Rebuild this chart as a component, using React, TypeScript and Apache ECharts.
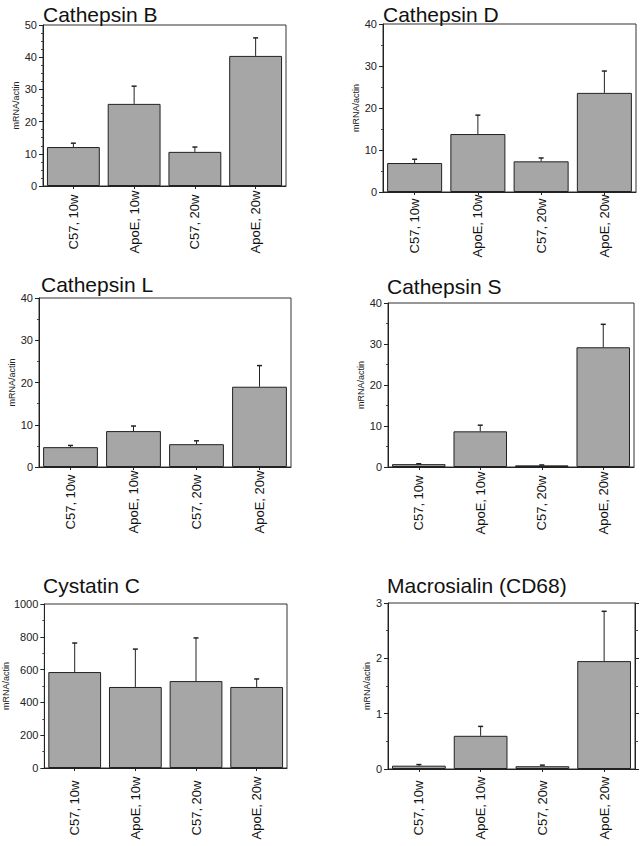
import React, { useEffect, useRef } from 'react';
import * as echarts from 'echarts';

const categories = ['C57, 10w', 'ApoE, 10w', 'C57, 20w', 'ApoE, 20w'];

const titles = ['Cathepsin B', 'Cathepsin D', 'Cathepsin L', 'Cathepsin S', 'Cystatin C', 'Macrosialin (CD68)'];

const cathepsinB = [12.1, 25.5, 10.6, 40.4];
const cathepsinBErr = [1.2, 5.5, 1.5, 5.6];
const cathepsinD = [6.9, 13.8, 7.3, 23.6];
const cathepsinDErr = [0.9, 4.5, 0.8, 5.2];
const cathepsinL = [4.7, 8.5, 5.4, 19.0];
const cathepsinLErr = [0.4, 1.2, 0.8, 5.0];
const cathepsinS = [0.7, 8.7, 0.4, 29.2];
const cathepsinSErr = [0.1, 1.5, 0.1, 5.6];
const cystatinC = [585, 494, 530, 494];
const cystatinCErr = [177, 231, 263, 49];
const macrosialin = [0.06, 0.6, 0.05, 1.95];
const macrosialinErr = [0.02, 0.17, 0.02, 0.9];

const yMax = [50, 40, 40, 40, 1000, 3];
const yInterval = [10, 10, 10, 10, 200, 1];
const yMinorSplit = [4, 2, 2, 2, 2, 2];

const seriesValues = [cathepsinB, cathepsinD, cathepsinL, cathepsinS, cystatinC, macrosialin];
const seriesErrors = [cathepsinBErr, cathepsinDErr, cathepsinLErr, cathepsinSErr, cystatinCErr, macrosialinErr];

// layout (px)
const grids = [
  { left: 43, top: 25, width: 243, height: 161 },
  { left: 383, top: 24, width: 253, height: 168 },
  { left: 39, top: 298, width: 252, height: 169 },
  { left: 388, top: 303, width: 246, height: 164 },
  { left: 43, top: 604, width: 244, height: 164 },
  { left: 388, top: 603, width: 247, height: 166 },
];
const titlePos = [
  [43, 4],
  [383, 4],
  [41, 274],
  [387, 276],
  [43, 575],
  [387, 575],
];
const nameGaps = [22, 21, 23, 19, 31, 15];
const labelMargins = [36, 34, 35, 36, 40, 39];

const FONT = '"Liberation Sans", Arial, Helvetica, sans-serif';

export default function App() {
  const ref = useRef<HTMLDivElement>(null);
  useEffect(() => {
    if (!ref.current) return;
    const chart = echarts.init(ref.current, undefined, { renderer: 'svg' });

    const xAxis: any[] = [];
    const yAxis: any[] = [];
    const series: any[] = [];

    grids.forEach((g, i) => {
      xAxis.push({
        type: 'category',
        gridIndex: i,
        data: categories,
        axisLine: { show: true, lineStyle: { color: '#222', width: 1 } },
        axisTick: { show: true, alignWithLabel: true, length: 3, lineStyle: { color: '#222' } },
        axisLabel: {
          rotate: 90,
          align: 'center',
          verticalAlign: 'middle',
          margin: labelMargins[i],
          fontSize: 13,
          fontFamily: FONT,
          color: '#111',
        },
        splitLine: { show: false },
      });
      yAxis.push({
        type: 'value',
        gridIndex: i,
        min: 0,
        max: yMax[i],
        interval: yInterval[i],
        name: 'mRNA/actin',
        nameLocation: 'middle',
        nameRotate: 90,
        nameGap: nameGaps[i],
        nameTextStyle: { fontSize: 9, fontFamily: FONT, color: '#222' },
        axisLine: { show: true, lineStyle: { color: '#222', width: 1 } },
        axisTick: { show: true, length: 4, lineStyle: { color: '#222' } },
        minorTick: { show: true, splitNumber: yMinorSplit[i], length: 2, lineStyle: { color: '#444' } },
        axisLabel: {
          fontSize: 11,
          fontFamily: FONT,
          color: '#222',
          margin: 6,
          formatter: (v: number) => String(v),
        },
        splitLine: { show: false },
        minorSplitLine: { show: false },
      });
      series.push({
        type: 'bar',
        xAxisIndex: i,
        yAxisIndex: i,
        data: seriesValues[i],
        barCategoryGap: '13%',
        itemStyle: { color: '#a6a6a6', borderColor: '#222', borderWidth: 1 },
        z: 2,
      });
      series.push({
        type: 'custom',
        xAxisIndex: i,
        yAxisIndex: i,
        encode: { x: 0, y: 2 },
        data: seriesValues[i].map((v, j) => [j, v, v + seriesErrors[i][j]]),
        z: 3,
        renderItem: (params: any, api: any) => {
          const x = api.value(0);
          const lo = api.coord([x, api.value(1)]);
          const hi = api.coord([x, api.value(2)]);
          return {
            type: 'group',
            children: [
              {
                type: 'line',
                shape: { x1: lo[0], y1: lo[1], x2: hi[0], y2: hi[1] },
                style: { stroke: '#222', lineWidth: 1 },
              },
              {
                type: 'line',
                shape: { x1: hi[0] - 2.5, y1: hi[1], x2: hi[0] + 2.5, y2: hi[1] },
                style: { stroke: '#222', lineWidth: 1.5 },
              },
            ],
          };
        },
      });
    });

    // right-hand axis of the Macrosialin panel
    yAxis.push({
      type: 'value',
      gridIndex: 5,
      position: 'right',
      min: 0,
      max: yMax[5],
      interval: yInterval[5],
      axisLine: { show: true, lineStyle: { color: '#222', width: 1 } },
      axisTick: { show: true, length: 4, lineStyle: { color: '#222' } },
      minorTick: { show: true, splitNumber: 2, length: 3, lineStyle: { color: '#444' } },
      axisLabel: { show: false },
      splitLine: { show: false },
    });

    const option: any = {
      animation: false,
      backgroundColor: '#ffffff',
      grid: grids.map((g) => ({
        ...g,
        show: true,
        borderColor: '#333',
        borderWidth: 1,
        backgroundColor: 'transparent',
        containLabel: false,
      })),
      xAxis,
      yAxis,
      series,
      graphic: titles.map((t, i) => ({
        type: 'text',
        left: titlePos[i][0],
        top: titlePos[i][1],
        style: { text: t, font: `21px ${FONT}`, fill: '#111' },
      })),
    };
    chart.setOption(option);
    return () => chart.dispose();
  }, []);

  return (
    <div
      ref={ref}
      style={{ position: 'absolute', left: 0, top: 0, width: 642, height: 846, background: '#fff' }}
    />
  );
}
